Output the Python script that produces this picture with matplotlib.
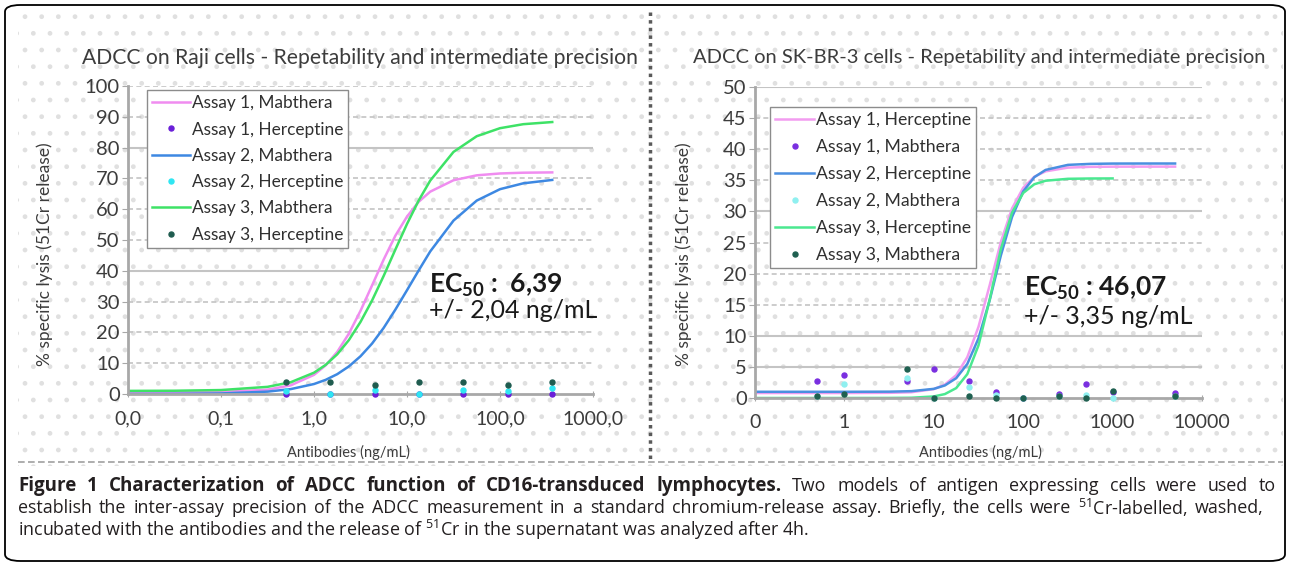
import matplotlib.pyplot as plt
from matplotlib.lines import Line2D
from matplotlib.patches import Rectangle, FancyBboxPatch

FIG_W = 1290
FIG_H = 568

# ADCC on Raji cells (left panel), fitted curves
raji_curve_x = [0.01, 0.0316, 0.1, 0.316, 0.562, 1.0, 1.334, 1.778, 2.371, 3.162, 4.217,
                5.623, 7.499, 10.0, 13.34, 17.78, 31.62, 56.23, 100.0, 177.8, 364.5]
raji_mabthera_1 = [0.5, 0.52, 0.64, 1.41, 2.81, 6.22, 9.29, 13.67, 19.6, 27.0, 35.3,
                   43.7, 51.4, 57.6, 62.4, 65.7, 69.4, 71.0, 71.6, 71.85, 71.95]
raji_mabthera_2 = [0.01, 0.04, 0.18, 0.77, 1.59, 3.24, 4.59, 6.44, 8.96, 12.25, 16.4,
                   21.5, 27.4, 33.7, 40.1, 46.3, 56.3, 62.8, 66.5, 68.4, 69.5]
raji_mabthera_3 = [1.01, 1.06, 1.28, 2.32, 3.82, 6.92, 9.45, 12.9, 17.5, 23.4, 30.4,
                   38.4, 46.9, 55.2, 62.8, 69.3, 78.6, 83.7, 86.3, 87.6, 88.3]
raji_dose = [0.5, 1.5, 4.5, 13.5, 40.5, 121.5, 364.5]
raji_herceptine_1 = [0.0, 0.0, 0.0, 0.0, 0.0, 0.0, 0.0]
raji_herceptine_2 = [1.0, 0.0, 1.3, 0.0, 1.3, 1.0, 1.9]
raji_herceptine_3 = [3.8, 3.8, 2.9, 3.8, 4.0, 2.9, 4.0]
raji_xticks = [0.01, 0.1, 1, 10, 100, 1000]
raji_xlabels = ['0,0', '0,1', '1,0', '10,0', '100,0', '1000,0']
raji_yticks = [0, 10, 20, 30, 40, 50, 60, 70, 80, 90, 100]

# ADCC on SK-BR-3 cells (right panel)
skbr3_curve_x = [0.1, 0.316, 1.0, 3.16, 5.62, 10.0, 13.3, 17.8, 23.7, 31.6, 42.2,
                 56.2, 75.0, 100.0, 133.0, 178.0, 316.0, 562.0, 1000.0, 2239.0, 5000.0]
skbr3_herceptine_1 = [0.8, 0.8, 0.8, 0.83, 0.93, 1.43, 2.16, 3.67, 6.56, 11.44, 18.14,
                      25.07, 30.47, 33.8, 35.57, 36.44, 37.04, 37.16, 37.19, 37.2, 37.2]
skbr3_herceptine_2 = [1.0, 1.0, 1.0, 1.02, 1.1, 1.47, 2.02, 3.18, 5.47, 9.59, 15.74,
                      22.9, 29.1, 33.2, 35.5, 36.67, 37.48, 37.64, 37.69, 37.7, 37.7]
skbr3_herceptine_3 = [0.0, 0.0, 0.0, 0.01, 0.04, 0.25, 0.63, 1.59, 3.84, 8.45, 15.84,
                      23.93, 29.8, 32.96, 34.36, 34.93, 35.24, 35.29, 35.3]
skbr3_dose = [0.5, 1, 5, 10, 25, 50, 100, 250, 500, 1000, 5000]
skbr3_mabthera_1 = [2.8, 3.7, 2.8, 4.7, 2.7, 1.0, 0.0, 0.6, 2.3, 1.0, 0.8]
skbr3_mabthera_2 = [0.3, 2.2, 3.2, 0.0, 1.8, 0.5, 0.0, 0.3, 0.5, 0.0, 0.3]
skbr3_mabthera_3 = [0.3, 0.7, 4.6, 0.0, 0.4, 0.0, 0.0, 0.3, 0.0, 1.1, 0.3]
skbr3_xticks = [0.1, 1, 10, 100, 1000, 10000]
skbr3_xlabels = ['0', '1', '10', '100', '1000', '10000']
skbr3_yticks = [0, 5, 10, 15, 20, 25, 30, 35, 40, 45, 50]

CHART_FONT = ['Lato', 'DejaVu Sans']
CAPTION_FONT = ['Open Sans', 'DejaVu Sans']
TEXT_GRAY = '#3c3c3c'
GRID_GRAY = '#c4c4c4'
CAPTION_SIZE = 12.9
CAPTION_BOLD_SIZE = 13.5

plt.rcParams['font.family'] = CHART_FONT


def fx(x):
    return x / FIG_W


def fy(y):
    return 1 - y / FIG_H


def style_panel(ax, xticks, xlabels, yticks, solid_levels, short_levels, short_end):
    ax.set_xscale('log')
    ax.set_facecolor('none')
    for side in ['top', 'right']:
        ax.spines[side].set_visible(False)
    for side in ['left', 'bottom']:
        ax.spines[side].set_color('#a8a8a8')
        ax.spines[side].set_linewidth(2)
    ax.set_xticks(xticks, xlabels)
    ax.minorticks_off()
    ax.set_yticks(yticks)
    ax.tick_params(axis='y', direction='out', length=4, color='#a8a8a8',
                   labelsize=14.5, labelcolor=TEXT_GRAY, pad=2)
    ax.tick_params(axis='x', direction='inout', length=5, color='#a8a8a8',
                   labelsize=14, labelcolor=TEXT_GRAY, pad=9)
    for level in yticks[1:]:
        xmax = short_end if level in short_levels else 1
        if level in solid_levels:
            ax.axhline(level, xmax=xmax, color=GRID_GRAY, lw=1.5, zorder=0.5)
        else:
            ax.axhline(level, xmax=xmax, color=GRID_GRAY, lw=1.2, ls=(0, (3, 2)), zorder=0.5)


def justified_line(pieces, y, x_left, x_right):
    """Place (word, weight) pieces on one caption line, stretched to the full width."""
    renderer = fig.canvas.get_renderer()
    texts = []
    for word, weight in pieces:
        size = CAPTION_BOLD_SIZE if weight == 'bold' else CAPTION_SIZE
        texts.append(fig.text(0, fy(y), word, ha='left', va='center', fontsize=size,
                              fontweight=weight, family=CAPTION_FONT, color='#231f20'))
    widths = [t.get_window_extent(renderer).width for t in texts]
    gap = (x_right - x_left - sum(widths)) / (len(texts) - 1)
    x = x_left
    for t, w in zip(texts, widths):
        t.set_x(x / FIG_W)
        x += w + gap


fig = plt.figure(figsize=(FIG_W / 100, FIG_H / 100), dpi=100)

# dotted chart background, separators and rounded frame
background = Rectangle((fx(18), fy(466)), fx(1283) - fx(18), fy(10) - fy(466),
                       transform=fig.transFigure, facecolor='white', edgecolor='#e0e0e0',
                       linewidth=0, hatch='.', zorder=-5)
fig.add_artist(background)
fig.add_artist(Line2D([fx(650), fx(650)], [fy(12), fy(460)], transform=fig.transFigure,
                      color='#5a5a5a', lw=2.5, ls=(0, (1, 1.2))))
fig.add_artist(Line2D([fx(18), fx(1283)], [fy(462), fy(462)], transform=fig.transFigure,
                      color='#a0a0a0', lw=1.2, ls=(0, (4, 2))))
frame = FancyBboxPatch((fx(5), fy(561)), fx(1285) - fx(5), fy(5) - fy(561),
                       boxstyle='round,pad=0,rounding_size=0.012', transform=fig.transFigure,
                       facecolor='none', edgecolor='black', linewidth=1.3)
fig.add_artist(frame)

# left panel
ax1 = fig.add_axes([fx(128), fy(394), fx(593) - fx(128), fy(86) - fy(394)])
style_panel(ax1, raji_xticks, raji_xlabels, raji_yticks, [40, 80], [30, 40], 0.629)
ax1.plot(raji_curve_x, raji_mabthera_1, color='#f08cf0', lw=1.8, label='Assay 1, Mabthera', zorder=2)
ax1.plot(raji_dose, raji_herceptine_1, 'o', color='#6a1fd8', ms=3.6, clip_on=False,
         label='Assay 1, Herceptine', zorder=3)
ax1.plot(raji_curve_x, raji_mabthera_2, color='#3d88e2', lw=1.8, label='Assay 2, Mabthera', zorder=2)
ax1.plot(raji_dose, raji_herceptine_2, 'o', color='#2fe6f2', ms=3.6, clip_on=False,
         label='Assay 2, Herceptine', zorder=3)
ax1.plot(raji_curve_x, raji_mabthera_3, color='#3ee266', lw=1.8, label='Assay 3, Mabthera', zorder=2)
ax1.plot(raji_dose, raji_herceptine_3, 'o', color='#1f5c4f', ms=3.6, clip_on=False,
         label='Assay 3, Herceptine', zorder=3)
ax1.set_xlim(0.01, 1000)
ax1.set_ylim(0, 100)

# right panel
ax2 = fig.add_axes([fx(755), fy(398), fx(1202) - fx(755), fy(87) - fy(398)])
style_panel(ax2, skbr3_xticks, skbr3_xlabels, skbr3_yticks, [5, 10, 30, 50], [15, 20], 0.57)
ax2.plot(skbr3_curve_x, skbr3_herceptine_1, color='#f29cf0', lw=1.8, label='Assay 1, Herceptine', zorder=2)
ax2.plot(skbr3_dose, skbr3_mabthera_1, 'o', color='#7a2fe0', ms=3.6, clip_on=False,
         label='Assay 1, Mabthera', zorder=3)
ax2.plot(skbr3_curve_x, skbr3_herceptine_2, color='#4a8fe0', lw=1.8, label='Assay 2, Herceptine', zorder=2)
ax2.plot(skbr3_dose, skbr3_mabthera_2, 'o', color='#8ff0f0', ms=3.6, clip_on=False,
         label='Assay 2, Mabthera', zorder=3)
ax2.plot(skbr3_curve_x[:len(skbr3_herceptine_3)], skbr3_herceptine_3, color='#4ae890', lw=1.8,
         label='Assay 3, Herceptine', zorder=2)
ax2.plot(skbr3_dose, skbr3_mabthera_3, 'o', color='#1f6050', ms=3.6, clip_on=False,
         label='Assay 3, Mabthera', zorder=3)
ax2.set_xlim(0.1, 10000)
ax2.set_ylim(0, 50)

for ax, left, top, size, spacing in [(ax1, 147, 90, 12.4, 0.6), (ax2, 770, 107, 12.7, 0.62)]:
    leg = ax.legend(loc='upper left', bbox_to_anchor=(fx(left), fy(top)), bbox_transform=fig.transFigure,
                    fontsize=size, handlelength=2.2, handletextpad=0.1, labelspacing=spacing,
                    borderpad=0.3, borderaxespad=0, fancybox=False, framealpha=1,
                    edgecolor='#8c8c8c', numpoints=1)
    leg.get_frame().set_linewidth(1.0)
    for text in leg.get_texts():
        text.set_color('#303030')

# titles and axis labels
fig.text(fx(360), fy(58), 'ADCC on Raji cells - Repetability and intermediate precision',
         ha='center', va='center', fontsize=15.2, color=TEXT_GRAY)
fig.text(fx(979), fy(58), 'ADCC on SK-BR-3 cells - Repetability and intermediate precision',
         ha='center', va='center', fontsize=14.5, color=TEXT_GRAY)
for x_pos in [45, 684]:
    fig.text(fx(x_pos), fy(254), '% specific lysis (51Cr release)', rotation=90,
             ha='center', va='center', fontsize=12.5, color=TEXT_GRAY)
for x_pos in [348, 980]:
    fig.text(fx(x_pos), fy(452), 'Antibodies (ng/mL)', ha='center', va='center',
             fontsize=10.5, color=TEXT_GRAY)

# EC50 annotations
fig.text(fx(429), fy(285), r'EC$\mathregular{_{50}}$ :  6,39', ha='left', va='center',
         fontsize=19, fontweight='bold', color='#1a1a1a')
fig.text(fx(429), fy(311), '+/- 2,04 ng/mL', ha='left', va='center', fontsize=18, color='#1a1a1a')
fig.text(fx(1024), fy(288), r'EC$\mathregular{_{50}}$ : 46,07', ha='left', va='center',
         fontsize=19, fontweight='bold', color='#1a1a1a')
fig.text(fx(1024), fy(316), '+/- 3,35 ng/mL', ha='left', va='center', fontsize=18, color='#1a1a1a')

# caption
caption_bold = 'Figure 1 Characterization of ADCC function of CD16-transduced lymphocytes.'
caption_line1 = 'Two models of antigen expressing cells were used to'
caption_line2 = ('establish the inter-assay precision of the ADCC measurement in a standard '
                 'chromium-release assay. Briefly, the cells were $\\mathregular{^{51}}$Cr-labelled, washed,')
caption_line3 = ('incubated with the antibodies and the release of $\\mathregular{^{51}}$Cr '
                 'in the supernatant was analyzed after 4h.')

fig.canvas.draw()
line1_pieces = ([(w, 'bold') for w in caption_bold.split(' ')]
                + [(w, 'normal') for w in caption_line1.split(' ')])
justified_line(line1_pieces, 486, 18, 1276)
justified_line([(w, 'normal') for w in caption_line2.split(' ')], 508, 18, 1264)
fig.text(fx(18), fy(530), caption_line3, ha='left', va='center', fontsize=CAPTION_SIZE,
         family=CAPTION_FONT, color='#231f20')

fig.savefig('out.png', dpi=100)
